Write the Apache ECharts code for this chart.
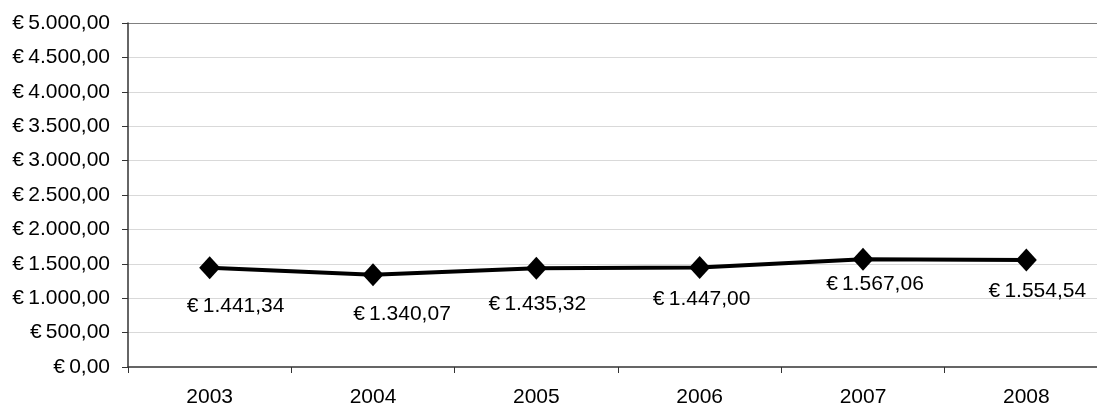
<!DOCTYPE html>
<html>
<head>
<meta charset="utf-8">
<script src="https://cdn.jsdelivr.net/npm/echarts@6/dist/echarts.min.js"></script>
<style>
html,body{margin:0;padding:0;background:#fff;}
#chart{width:1097px;height:407px;}
</style>
</head>
<body>
<div id="chart"></div>
<script>
// data
var years = ['2003', '2004', '2005', '2006', '2007', '2008'];
var values = [1441.34, 1340.07, 1435.32, 1447.00, 1567.06, 1554.54];

// label nudges (style only)
var labelOffsets = [[26, 0], [29, 1], [1, -2], [2, -6], [12, -13], [11, -7]];

function euro(v) {
    var parts = Number(v).toFixed(2).split('.');
    var whole = parts[0].replace(/\B(?=(\d{3})+(?!\d))/g, '.');
    return '€\u2009' + whole + ',' + parts[1];
}

var gridColors = [];
for (var i = 0; i < 10; i++) gridColors.push('#d9d9d9');
gridColors.push('#808080');
gridColors[0] = 'rgba(0,0,0,0)';

var chart = echarts.init(document.getElementById('chart'));
chart.setOption({
    animation: false,
    textStyle: { fontFamily: 'Liberation Sans, Arial, sans-serif' },
    grid: { left: 128, width: 980, top: 23, bottom: 40, outerBoundsMode: 'none' },
    xAxis: {
        type: 'category',
        data: years,
        boundaryGap: true,
        axisLine: { lineStyle: { color: '#333', width: 1.5 } },
        axisTick: { show: true, length: 6, lineStyle: { color: '#333' } },
        axisLabel: { color: '#000', fontSize: 21, margin: 20 }
    },
    yAxis: {
        type: 'value',
        min: 0,
        max: 5000,
        interval: 500,
        axisLine: { show: true, lineStyle: { color: '#333', width: 1.5 } },
        axisTick: { show: true, length: 6, lineStyle: { color: '#333' } },
        splitLine: { show: true, lineStyle: { color: gridColors, width: 1 } },
        axisLabel: { color: '#000', fontSize: 21, margin: 18, formatter: euro }
    },
    series: [{
        type: 'line',
        data: values.map(function (v, i) {
            return { value: v, label: { offset: labelOffsets[i] } };
        }),
        symbol: 'diamond',
        symbolSize: [21, 23],
        itemStyle: { color: '#000' },
        lineStyle: { color: '#000', width: 4 },
        label: {
            show: true,
            position: 'bottom',
            distance: 16,
            color: '#000',
            fontSize: 21,
            formatter: function (p) { return euro(p.value); }
        }
    }]
});
</script>
</body>
</html>
